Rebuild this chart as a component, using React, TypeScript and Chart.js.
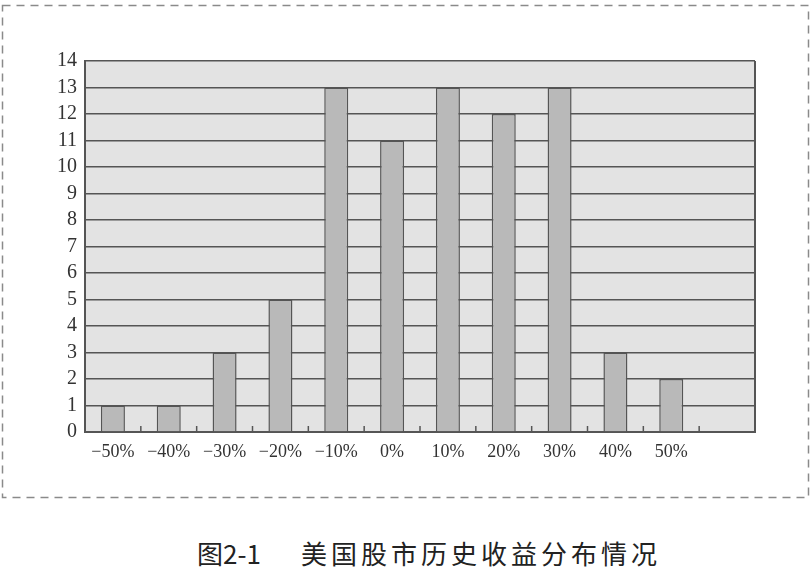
import React, { useEffect, useRef } from "react";
import { Chart, registerables } from "chart.js";

Chart.register(...registerables);

const categories = ["−50%", "−40%", "−30%", "−20%", "−10%", "0%", "10%", "20%", "30%", "40%", "50%", ""];
const counts: (number | null)[] = [1, 1, 3, 5, 13, 11, 13, 12, 13, 3, 2, null];
const yMin = 0;
const yMax = 14;
const yStep = 1;
const captionLabel = "图2-1";
const captionText = "美国股市历史收益分布情况";

const framePlugin = {
  id: "frame",
  beforeDraw(chart: any) {
    const { ctx, chartArea } = chart;
    ctx.save();
    ctx.fillStyle = "#ffffff";
    ctx.fillRect(0, 0, chart.width, chart.height);
    ctx.setLineDash([8, 6]);
    ctx.strokeStyle = "#8a8a8a";
    ctx.lineWidth = 1.5;
    ctx.strokeRect(2.5, 5.5, 806, 492);
    ctx.setLineDash([]);
    ctx.fillStyle = "#e3e3e3";
    ctx.fillRect(chartArea.left, chartArea.top, chartArea.right - chartArea.left, chartArea.bottom - chartArea.top);
    ctx.restore();
  },
  afterDatasetsDraw(chart: any) {
    const { ctx, chartArea } = chart;
    const x = chart.scales.x;
    ctx.save();
    ctx.strokeStyle = "#555555";
    ctx.lineWidth = 1.5;
    const n = categories.length;
    for (let i = 0; i < n - 1; i++) {
      const a = x.getPixelForValue(i);
      const b = x.getPixelForValue(i + 1);
      const m = (a + b) / 2;
      ctx.beginPath();
      ctx.moveTo(m, chartArea.bottom);
      ctx.lineTo(m, chartArea.bottom - 6);
      ctx.stroke();
    }
    ctx.lineWidth = 2;
    ctx.beginPath();
    ctx.moveTo(chartArea.right, chartArea.top);
    ctx.lineTo(chartArea.right, chartArea.bottom);
    ctx.stroke();
    ctx.restore();
  },
};

export default function App() {
  const ref = useRef<HTMLCanvasElement | null>(null);
  useEffect(() => {
    if (!ref.current) return;
    const chart = new Chart(ref.current, {
      type: "bar",
      data: {
        labels: categories,
        datasets: [
          {
            data: counts,
            backgroundColor: "#b9b9b9",
            borderColor: "#555555",
            borderWidth: 1.5,
            barPercentage: 0.43,
            categoryPercentage: 1,
          },
        ],
      },
      options: {
        animation: false,
        responsive: false,
        devicePixelRatio: 1,
        layout: { padding: { top: 61, right: 57, left: 0, bottom: 0 } },
        plugins: { legend: { display: false }, tooltip: { enabled: false }, title: { display: false } },
        scales: {
          x: {
            grid: { display: false, drawTicks: false },
            border: { display: true, color: "#555555", width: 2 },
            ticks: {
              padding: 9,
              color: "#333333",
              font: { family: "'Liberation Serif', 'DejaVu Serif', serif", size: 18 },
              maxRotation: 0,
              autoSkip: false,
            },
            afterFit: (s: any) => {
              s.height = 68;
            },
          },
          y: {
            min: yMin,
            max: yMax,
            grid: { color: "#555555", lineWidth: 1.5, drawTicks: false },
            border: { display: true, color: "#555555", width: 2 },
            ticks: {
              stepSize: yStep,
              autoSkip: false,
              padding: 8,
              color: "#333333",
              font: { family: "'Liberation Serif', 'DejaVu Serif', serif", size: 20, lineHeight: 1 },
            },
            afterFit: (s: any) => {
              s.width = 85;
            },
          },
        },
      },
      plugins: [framePlugin],
    });
    return () => chart.destroy();
  }, []);

  return (
    <div style={{ position: "absolute", left: 0, top: 0, width: 812, height: 578, background: "#ffffff" }}>
      <canvas ref={ref} width={812} height={500} style={{ position: "absolute", left: 0, top: 0, width: 812, height: 500 }} />
      <div
        style={{
          position: "absolute",
          left: 197,
          top: 535,
          whiteSpace: "nowrap",
          fontFamily: "'Noto Sans CJK SC', sans-serif",
          fontSize: 26,
          lineHeight: "36px",
          color: "#222222",
        }}
      >
        <span>{captionLabel}</span>
        <span style={{ marginLeft: 40, letterSpacing: 4 }}>{captionText}</span>
      </div>
    </div>
  );
}
